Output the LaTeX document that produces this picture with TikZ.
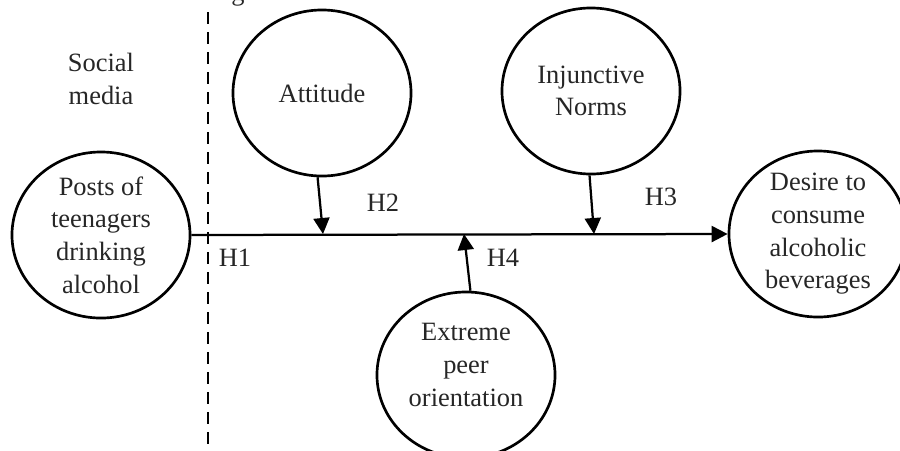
\documentclass[tikz,border=0pt]{standalone}
\usepackage{fontspec}
\setmainfont{Liberation Serif}
\usetikzlibrary{shapes.geometric,arrows.meta}

\tikzset{
  bubble/.style={draw=black, line width=1.9pt, ellipse, inner sep=0pt,
    minimum width=4.45cm, minimum height=4.15cm},
  words/.style={align=center, inner sep=0pt, text=black!85,
    font=\fontsize{18.8}{23.2}\selectfont},
  link/.style={line width=1.6pt, -{Triangle[length=0.4cm,width=0.4cm]}},
  divider/.style={line width=2pt, dash pattern=on 0.3cm off 0.2cm}
}

\begin{document}
\begin{tikzpicture}[x=0.025cm, y=-0.025cm]
	\useasboundingbox (0, 0) rectangle (900, 450);

	% constructs
	\node[bubble] (posts) at (101, 235) {};
	\node[words] (posts-t) at (posts) {Posts of\\teenagers\\drinking\\alcohol};
	\node[bubble] (att) at (322, 93) {};
	\node[words] (att-t) at (att) {Attitude};
	\node[bubble] (inj) at (591, 91) {};
	\node[words] (inj-t) at (inj) {Injunctive\\Norms};
	\node[bubble] (ext) at (466, 375) {};
	\node[words] (ext-t) at (466, 365) {Extreme\\peer\\orientation};
	\node[bubble] (desire) at (818, 234) {};
	\node[words] (desire-t) at (desire) {Desire to\\consume\\alcoholic\\beverages};

	% social media side
	\node[words] (social) at (101, 79) {Social\\media};
	\node[words, anchor=base] (cut) at (238, 0) {g};
	\coordinate (dtop) at (208, 12);
	\coordinate (dbot) at (208, 452);
	\draw[divider] (dtop) -- (dbot);

	% paths
	\coordinate (jA) at (323, 234);
	\coordinate (jE) at (464, 234);
	\coordinate (jN) at (594, 234);
	\draw[link] (posts.east) -- (desire.west);
	\draw[link] (att.-93) -- (jA);
	\draw[link] (inj.-91) -- (jN);
	\draw[link] (ext.87) -- (jE);

	% hypotheses
	\node[words] (h1) at (235, 258) {H1};
	\node[words] (h2) at (383, 203) {H2};
	\node[words] (h3) at (661, 197) {H3};
	\node[words] (h4) at (503, 258) {H4};
\end{tikzpicture}
\end{document}
